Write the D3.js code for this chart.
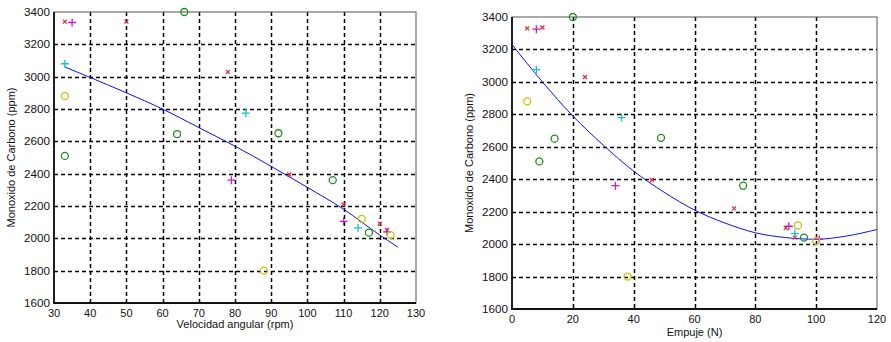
<!DOCTYPE html>
<html>
<head>
<meta charset="utf-8">
<script src="https://cdn.jsdelivr.net/npm/d3@7"></script>
<style>
  body { margin: 0; background: #fff; }
  svg { display: block; }
  .tick-label { font-family: "Liberation Sans", Arial, sans-serif; font-size: 11px; fill: #111; }
  .axis-title { font-family: "Liberation Sans", Arial, sans-serif; font-size: 11px; fill: #111; }
</style>
</head>
<body>
<div id="chart"></div>
<script>
// ---- data ----
const yTicks = [1600, 1800, 2000, 2200, 2400, 2600, 2800, 3000, 3200, 3400];
const velTicks = [30, 40, 50, 60, 70, 80, 90, 100, 110, 120, 130];
const empTicks = [0, 20, 40, 60, 80, 100, 120];

// left panel: velocidad angular vs CO
const velRed = [[33, 3340], [50, 3340], [78, 3030], [95, 2395], [110, 2210], [120, 2090], [122, 2050]];
const velMagenta = [[35, 3335], [79, 2360], [110, 2105], [122, 2040]];
const velCyan = [[33, 3080], [83, 2775], [114, 2065]];
const velGreen = [[66, 3400], [33, 2510], [64, 2645], [92, 2650], [107, 2360], [117, 2035]];
const velYellow = [[33, 2880], [115, 2120], [123, 2020], [88, 1800]];
const velFitX = [33, 40, 50, 60, 70, 80, 90, 100, 110, 120, 125];
const velFitY = [3060, 2995, 2900, 2800, 2685, 2570, 2445, 2315, 2180, 2020, 1945];

// right panel: empuje vs CO
const empRed = [[5, 3330], [10, 3335], [24, 3030], [46, 2395], [73, 2220], [90, 2100], [93, 2040]];
const empMagenta = [[8, 3325], [34, 2360], [91, 2110], [101, 2030]];
const empCyan = [[8, 3075], [36, 2780], [93, 2065]];
const empGreen = [[20, 3400], [14, 2650], [49, 2655], [9, 2510], [76, 2360], [96, 2040]];
const empYellow = [[5, 2880], [38, 1800], [94, 2115], [100, 2020]];
const empFitX = [0, 10, 20, 30, 40, 50, 60, 70, 80, 90, 100, 110, 120];
const empFitY = [3230, 3000, 2790, 2610, 2450, 2320, 2210, 2130, 2070, 2040, 2030, 2050, 2090];

const colors = {
    red: "#e0283a",
    magenta: "#c81ec8",
    cyan: "#18c0c8",
    green: "#1e8c1e",
    yellow: "#c8c400",
    fit: "#1010e8"
};

const svg = d3.select("#chart").append("svg")
    .attr("width", 891)
    .attr("height", 342);

function drawPanel(p) {
    const x = d3.scaleLinear().domain(p.xDomain).range([p.left, p.right]);
    const y = d3.scaleLinear().domain([1600, 3400]).range([p.bottom, p.top]);
    const g = svg.append("g");

    // grid
    g.selectAll(".vgrid").data(p.xTicks.slice(1, -1)).enter().append("line")
        .attr("x1", d => Math.round(x(d)) + 0.5).attr("x2", d => Math.round(x(d)) + 0.5)
        .attr("y1", p.top).attr("y2", p.bottom)
        .attr("stroke", "#000").attr("stroke-width", 1.5).attr("stroke-dasharray", "4,3");
    g.selectAll(".hgrid").data(yTicks.slice(1, -1)).enter().append("line")
        .attr("y1", d => Math.round(y(d)) + 0.5).attr("y2", d => Math.round(y(d)) + 0.5)
        .attr("x1", p.left).attr("x2", p.right)
        .attr("stroke", "#000").attr("stroke-width", 1.5).attr("stroke-dasharray", "4,3");

    // frame
    g.append("rect")
        .attr("x", p.left).attr("y", p.top)
        .attr("width", p.right - p.left).attr("height", p.bottom - p.top)
        .attr("fill", "none").attr("stroke", "#555").attr("stroke-width", 1);
    g.append("path")
        .attr("d", `M${p.left},${p.top}V${p.bottom}H${p.right}`)
        .attr("fill", "none").attr("stroke", "#111").attr("stroke-width", 1.8);

    // tick labels
    g.selectAll(".ylab").data(yTicks).enter().append("text")
        .attr("class", "tick-label")
        .attr("x", p.left - 4).attr("y", d => y(d) + 4)
        .attr("text-anchor", "end")
        .attr("textLength", 26).attr("lengthAdjust", "spacingAndGlyphs")
        .text(d => d);
    g.selectAll(".xlab").data(p.xTicks).enter().append("text")
        .attr("class", "tick-label")
        .attr("x", d => x(d)).attr("y", p.bottom + 14)
        .attr("text-anchor", "middle")
        .text(d => d);

    // titles
    g.append("text").attr("class", "axis-title")
        .attr("x", (p.left + p.right) / 2 + p.xTitleShift).attr("y", p.bottom + p.xTitleDrop)
        .attr("text-anchor", "middle")
        .text(p.xTitle);
    g.append("text").attr("class", "axis-title")
        .attr("transform", `translate(${p.left - 39},${(p.top + p.bottom) / 2}) rotate(-90)`)
        .attr("text-anchor", "middle")
        .text("Monoxido de Carbono (ppm)");

    // fit line
    const fit = p.fitX.map((v, i) => [v, p.fitY[i]]);
    g.append("path")
        .datum(fit)
        .attr("fill", "none").attr("stroke", colors.fit).attr("stroke-width", 1)
        .attr("d", d3.line().x(d => x(d[0])).y(d => y(d[1])).curve(d3.curveMonotoneX));

    // markers
    const s = 3;
    g.selectAll(".mx").data(p.red).enter().append("path")
        .attr("d", d => `M${x(d[0]) - 2},${y(d[1]) - 2}L${x(d[0]) + 2},${y(d[1]) + 2}M${x(d[0]) - 2},${y(d[1]) + 2}L${x(d[0]) + 2},${y(d[1]) - 2}`)
        .attr("stroke", colors.red).attr("stroke-width", 1.2);
    [[p.magenta, colors.magenta], [p.cyan, colors.cyan]].forEach(([data, c]) => {
        g.selectAll(null).data(data).enter().append("path")
            .attr("d", d => `M${x(d[0]) - 4},${y(d[1])}H${x(d[0]) + 4}M${x(d[0])},${y(d[1]) - 4}V${y(d[1]) + 4}`)
            .attr("stroke", c).attr("stroke-width", 1.3);
    });
    [[p.green, colors.green], [p.yellow, colors.yellow]].forEach(([data, c]) => {
        g.selectAll(null).data(data).enter().append("circle")
            .attr("cx", d => x(d[0])).attr("cy", d => y(d[1])).attr("r", s + 0.5)
            .attr("fill", "none").attr("stroke", c).attr("stroke-width", 1.3);
    });
}

drawPanel({
    left: 54, right: 416, top: 12, bottom: 303,
    xDomain: [30, 130], xTicks: velTicks,
    xTitle: "Velocidad angular (rpm)", xTitleShift: 0, xTitleDrop: 25,
    red: velRed, magenta: velMagenta, cyan: velCyan, green: velGreen, yellow: velYellow,
    fitX: velFitX, fitY: velFitY
});

drawPanel({
    left: 512, right: 877, top: 17, bottom: 309,
    xDomain: [0, 120], xTicks: empTicks,
    xTitle: "Empuje (N)", xTitleShift: 0, xTitleDrop: 27,
    red: empRed, magenta: empMagenta, cyan: empCyan, green: empGreen, yellow: empYellow,
    fitX: empFitX, fitY: empFitY
});
</script>
</body>
</html>
